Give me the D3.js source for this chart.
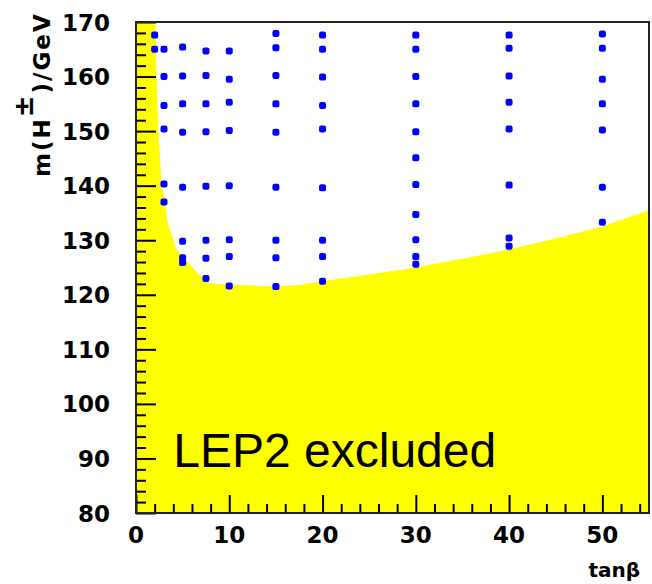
<!DOCTYPE html>
<html>
<head>
<meta charset="utf-8">
<script src="https://cdn.jsdelivr.net/npm/d3@7"></script>
<style>
  html, body { margin: 0; padding: 0; background: #fff; }
  #wrap { position: relative; width: 652px; height: 584px; }
  #wrap svg { position: absolute; left: 0; top: 0; display: block; }
</style>
</head>
<body>
<div id="wrap">
  <svg id="chart" width="652" height="584"></svg>
  <svg id="overlay" width="652" height="584"></svg>
</div>
<script>
// ---- Data ----
const xDomain = [0, 55];
const yDomain = [80, 170];
const xMajorTicks = [0, 10, 20, 30, 40, 50];
const xTickLabels = ["0", "10", "20", "30", "40", "50"];
const xMinorTicks = [2,4,6,8,12,14,16,18,22,24,26,28,32,34,36,38,42,44,46,48,52,54];
const yMajorTicks = [80, 90, 100, 110, 120, 130, 140, 150, 160, 170];
const yTickLabels = ["80", "90", "100", "110", "120", "130", "140", "150", "160", "170"];
const yMinorTicks = [82,84,86,88,92,94,96,98,102,104,106,108,112,114,116,118,122,124,126,128,132,134,136,138,142,144,146,148,152,154,156,158,162,164,166,168];

// excluded-region boundary (tanβ, m(H±))
const boundaryTanb = [2.1, 2.2, 2.4, 2.75, 3.1, 3.35, 3.7, 4.4, 5.4, 6.3, 7.4, 8.0, 10, 14, 17, 20, 25, 30, 35, 40, 45, 50, 55];
const boundaryMass = [170, 160, 150, 140, 137.3, 133.7, 131.5, 128.2, 126.3, 124.5, 122.7, 122.1, 121.9, 121.6, 121.7, 122.5, 123.7, 125.0, 126.6, 128.3, 130.3, 132.5, 135.5];

// simulated points: tanβ columns and masses
const pointTanb = [2, 3, 5, 7.5, 10, 15, 20, 30, 40, 50];
const pointMass = [
  [167.6, 165.0],
  [165.0, 160.0, 154.7, 150.4, 140.3, 137.0],
  [165.4, 160.1, 155.0, 149.8, 139.7, 129.8, 126.8, 125.9],
  [164.7, 160.2, 155.0, 149.9, 139.9, 130.0, 126.7, 123.0],
  [164.7, 159.5, 155.3, 150.1, 140.0, 130.1, 127.0, 121.6],
  [167.9, 165.3, 160.2, 155.0, 149.8, 139.7, 130.0, 126.8, 121.5],
  [167.6, 165.0, 159.9, 154.7, 150.4, 139.6, 130.0, 127.0, 122.5],
  [167.6, 165.0, 160.0, 155.0, 149.9, 145.1, 140.2, 134.7, 130.1, 127.0, 125.6],
  [167.6, 165.2, 160.1, 155.3, 150.4, 140.1, 130.4, 128.9],
  [167.8, 165.2, 159.5, 155.0, 150.2, 139.7, 133.3]
];

const regionLabel = "LEP2 excluded";
const xTitle = "tanβ";

// ---- Layout ----
const margin = {left: 136, right: 3, top: 22, bottom: 71};
const W = 652, H = 584;
const svg = d3.select("#chart");
const ov = d3.select("#overlay");
const x = d3.scaleLinear().domain(xDomain).range([margin.left, W - margin.right]);
const y = d3.scaleLinear().domain(yDomain).range([H - margin.bottom, margin.top]);

// excluded area (filled from the boundary down to the x axis)
const poly = boundaryTanb.map((t, i) => [t, boundaryMass[i]]);
const area = d3.area()
  .x(d => x(d[0]))
  .y0(y(yDomain[0]))
  .y1(d => y(d[1]));
const fullPoly = [[xDomain[0], yDomain[1]]].concat(poly);
svg.append("path")
  .attr("d", area(fullPoly))
  .attr("fill", "#ffff00");

// points
const pts = [];
pointTanb.forEach((t, i) => pointMass[i].forEach(m => pts.push([t, m])));
svg.selectAll("rect.pt").data(pts).enter().append("rect")
  .attr("class", "pt")
  .attr("x", d => x(d[0]) - 3.5)
  .attr("y", d => y(d[1]) - 3.5)
  .attr("width", 7).attr("height", 7)
  .attr("rx", 2.2).attr("ry", 2.2)
  .attr("fill", "#0000ff");

// region label
svg.append("text")
  .attr("x", x(4)).attr("y", y(88.5))
  .attr("font-family", "'Liberation Sans', Arial, sans-serif")
  .attr("font-size", 48)
  .attr("fill", "#000")
  .text(regionLabel);

const tickFont = "'DejaVu Sans', sans-serif";

// tick labels
svg.selectAll("text.xlab").data(xMajorTicks).enter().append("text")
  .attr("class", "xlab")
  .attr("x", d => x(d)).attr("y", y(yDomain[0]) + 30)
  .attr("text-anchor", "middle")
  .attr("font-family", tickFont).attr("font-weight", "bold").attr("font-size", 23)
  .attr("fill", "#000")
  .text((d, i) => xTickLabels[i]);
svg.selectAll("text.ylab").data(yMajorTicks).enter().append("text")
  .attr("class", "ylab")
  .attr("x", x(0) - 26).attr("y", d => y(d) + 8.5)
  .attr("text-anchor", "end")
  .attr("font-family", tickFont).attr("font-weight", "bold").attr("font-size", 23)
  .attr("fill", "#000")
  .text((d, i) => yTickLabels[i]);

// x title
svg.append("text")
  .attr("x", 640).attr("y", 577)
  .attr("text-anchor", "end")
  .attr("font-family", tickFont)
  .attr("font-weight", "bold")
  .attr("font-size", 20)
  .attr("fill", "#000")
  .text(xTitle);

// y title
const yt = svg.append("text")
  .attr("transform", "translate(50,177) rotate(-90)")
  .attr("font-family", tickFont)
  .attr("font-weight", "bold")
  .attr("font-size", 23)
  .attr("letter-spacing", 2)
  .attr("fill", "#000");
yt.append("tspan").text("m(H");
yt.append("tspan").attr("dy", -17).attr("font-size", 26).text("±");
yt.append("tspan").attr("dy", 17).text(")/GeV");

// ---- ticks and frame on the overlay layer, via d3 axes (ticks pointing inward) ----
function styleAxis(g) {
  g.select(".domain").remove();
  g.selectAll(".tick text").remove();
  g.selectAll(".tick line").attr("stroke", "#000").attr("stroke-width", 2);
}
ov.append("g")
  .attr("transform", `translate(0,${y(yDomain[0])})`)
  .call(d3.axisTop(x).tickValues(xMajorTicks).tickSize(18).tickFormat(""))
  .call(styleAxis);
ov.append("g")
  .attr("transform", `translate(0,${y(yDomain[0])})`)
  .call(d3.axisTop(x).tickValues(xMinorTicks).tickSize(9).tickFormat(""))
  .call(styleAxis);
ov.append("g")
  .attr("transform", `translate(${x(xDomain[0])},0)`)
  .call(d3.axisRight(y).tickValues(yMajorTicks).tickSize(20).tickFormat(""))
  .call(styleAxis);
ov.append("g")
  .attr("transform", `translate(${x(xDomain[0])},0)`)
  .call(d3.axisRight(y).tickValues(yMinorTicks).tickSize(10).tickFormat(""))
  .call(styleAxis);
ov.append("rect")
  .attr("x", x(xDomain[0])).attr("y", y(yDomain[1]))
  .attr("width", x(xDomain[1]) - x(xDomain[0]))
  .attr("height", y(yDomain[0]) - y(yDomain[1]))
  .attr("fill", "none")
  .attr("stroke", "#222")
  .attr("stroke-width", 2);
</script>
</body>
</html>
